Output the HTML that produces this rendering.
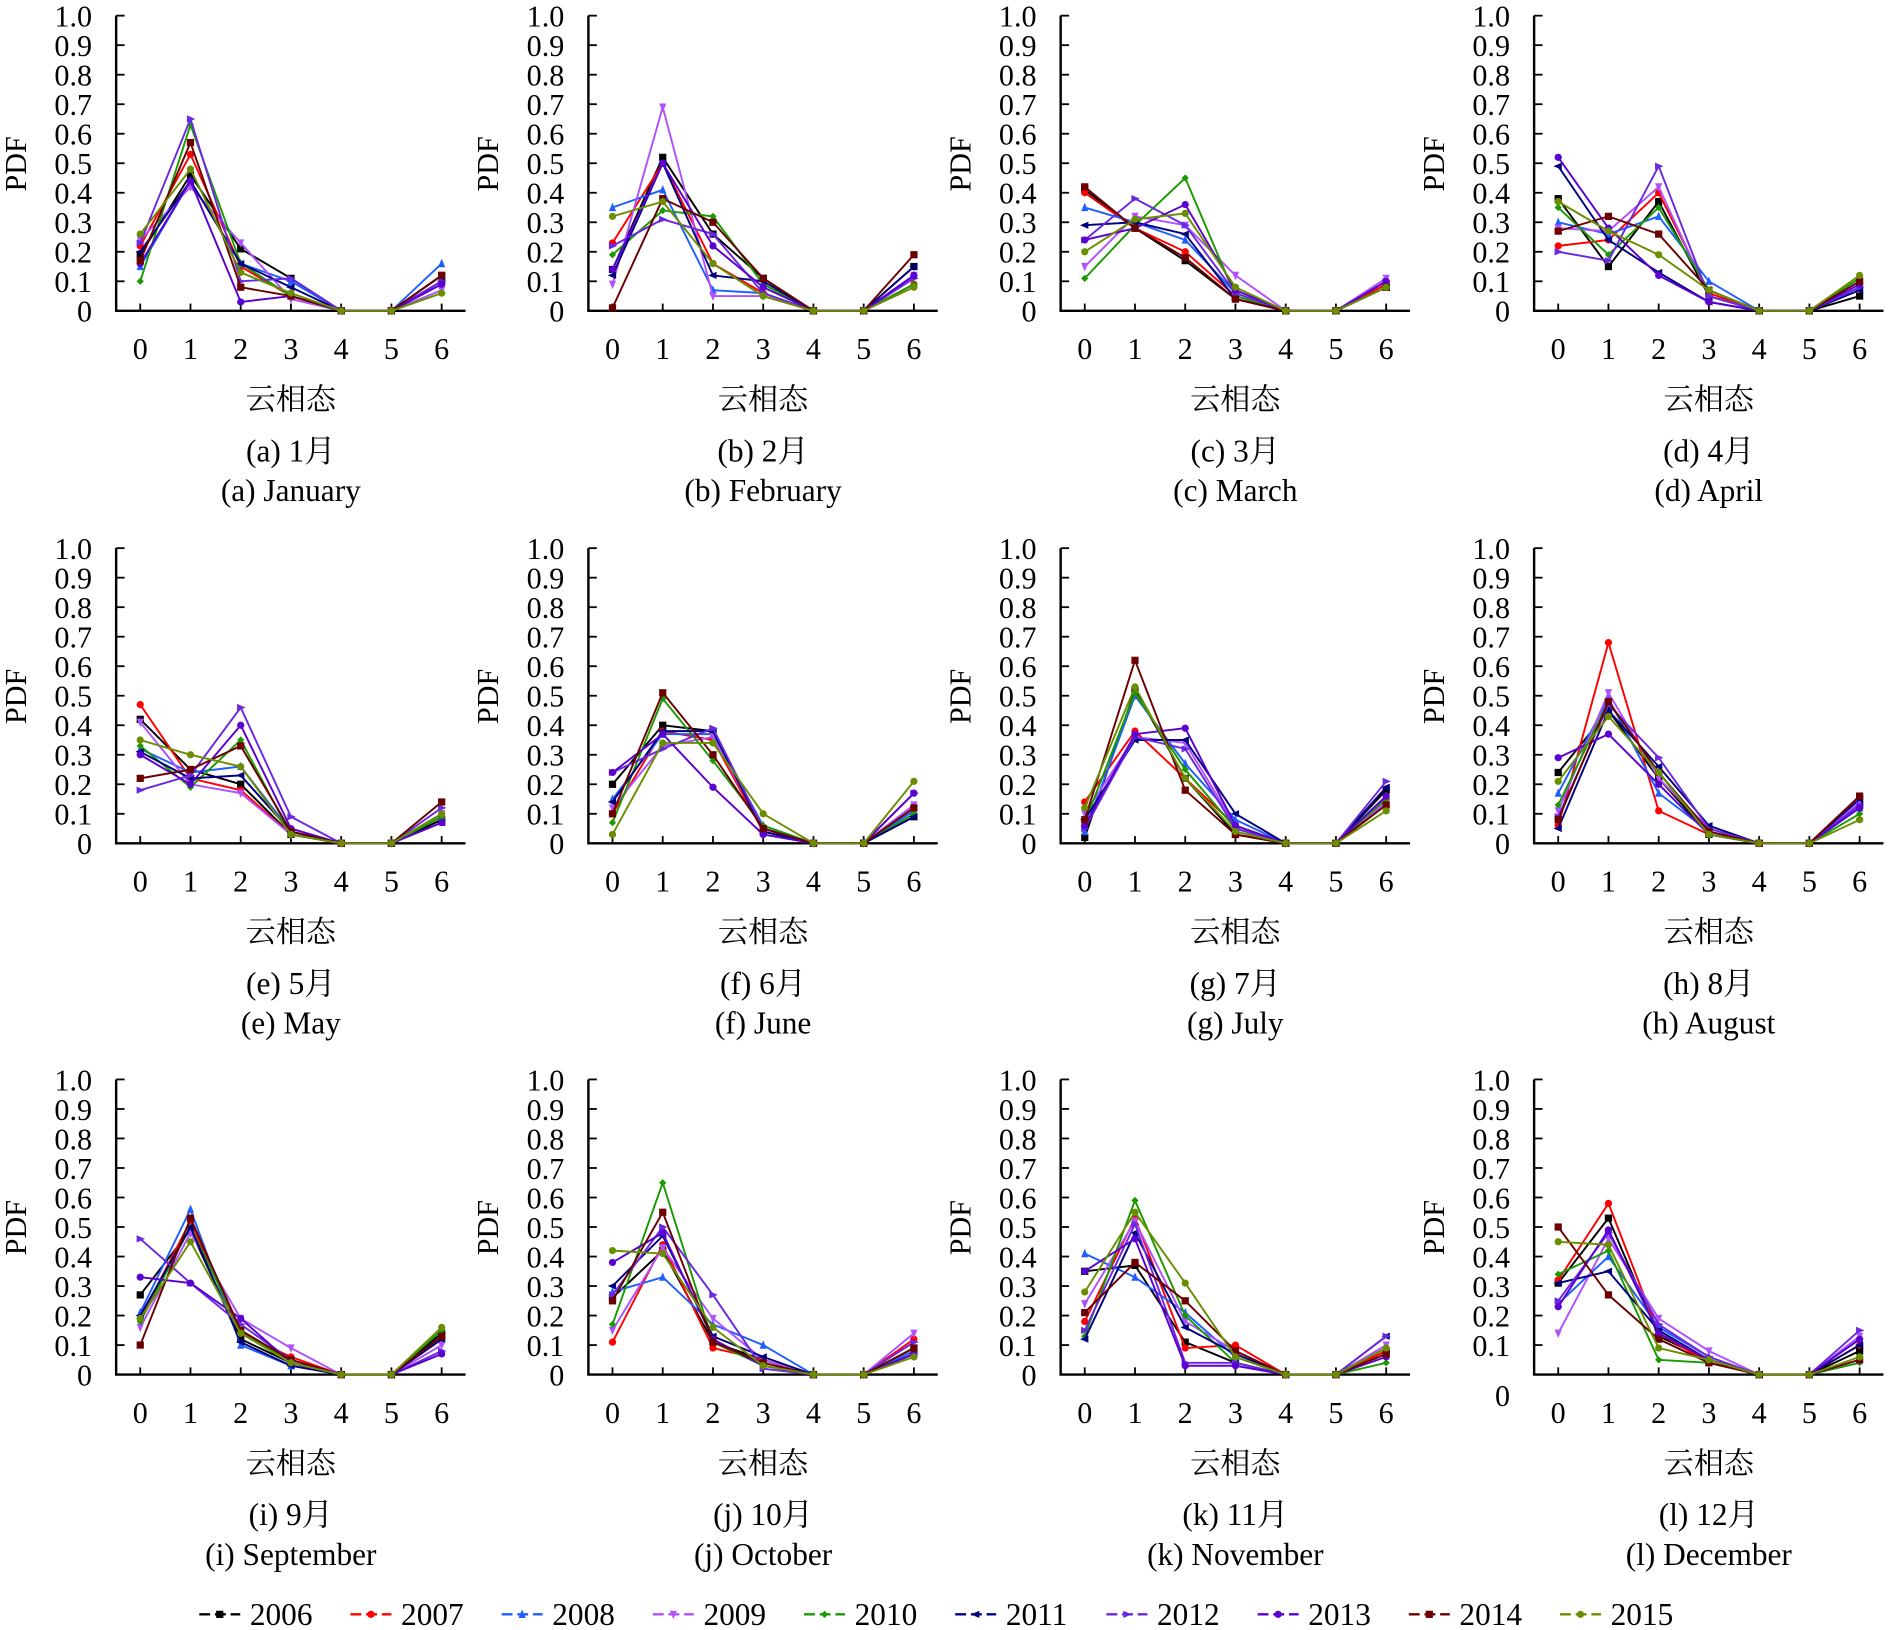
<!DOCTYPE html>
<html><head><meta charset="utf-8"><style>
html,body{margin:0;padding:0;background:#fff;}
svg{display:block;}
text{font-family:"Liberation Serif","Noto Serif CJK SC",serif;fill:#000;}
</style></head><body>
<svg id="chart" xmlns="http://www.w3.org/2000/svg" width="1890" height="1630" viewBox="0 0 1568 1353"></svg>
<script>
const categories=[0,1,2,3,4,5,6];
const years=["2006","2007","2008","2009","2010","2011","2012","2013","2014","2015"];
const yTicks=["0","0.1","0.2","0.3","0.4","0.5","0.6","0.7","0.8","0.9","1.0"];
const monthCn=["(a) 1月","(b) 2月","(c) 3月","(d) 4月","(e) 5月","(f) 6月","(g) 7月","(h) 8月","(i) 9月","(j) 10月","(k) 11月","(l) 12月"];
const monthEn=["(a) January","(b) February","(c) March","(d) April","(e) May","(f) June","(g) July","(h) August","(i) September","(j) October","(k) November","(l) December"];
// values per month: per year [c0,c1,c2,c3,c6] (c4,c5 are 0)
const janData=[[.19,.46,.21,.11,.12],[.22,.53,.15,.05,.10],[.15,.44,.16,.10,.16],[.24,.42,.23,.04,.07],[.10,.63,.16,.05,.06],[.20,.44,.16,.08,.10],[.23,.65,.10,.11,.10],[.16,.44,.03,.05,.09],[.17,.57,.08,.05,.12],[.26,.48,.13,.06,.06]];
const febData=[[.14,.52,.26,.11,.15],[.23,.50,.16,.06,.09],[.35,.41,.07,.06,.12],[.09,.69,.05,.05,.12],[.19,.34,.32,.09,.09],[.12,.50,.12,.10,.15],[.22,.31,.26,.06,.11],[.14,.50,.22,.08,.12],[.01,.38,.30,.11,.19],[.32,.37,.16,.05,.08]];
const marData=[[.41,.28,.17,.04,.08],[.40,.28,.20,.05,.09],[.35,.30,.24,.06,.10],[.15,.32,.29,.12,.11],[.11,.29,.45,.05,.08],[.29,.30,.26,.04,.08],[.24,.38,.29,.06,.10],[.24,.28,.36,.07,.10],[.42,.28,.18,.04,.08],[.20,.31,.33,.08,.08]];
const aprData=[[.38,.15,.37,.05,.05],[.22,.24,.40,.06,.08],[.30,.26,.32,.10,.08],[.28,.27,.42,.05,.08],[.35,.19,.35,.07,.11],[.49,.24,.13,.03,.07],[.20,.17,.49,.05,.08],[.52,.28,.12,.03,.09],[.27,.32,.26,.07,.10],[.37,.27,.19,.07,.12]];
const mayData=[[.42,.25,.20,.03,.08],[.47,.22,.18,.03,.09],[.32,.24,.26,.04,.09],[.41,.20,.17,.03,.10],[.33,.19,.35,.03,.09],[.31,.22,.23,.04,.07],[.18,.23,.46,.09,.12],[.30,.20,.40,.05,.07],[.22,.25,.33,.04,.14],[.35,.30,.26,.03,.10]];
const junData=[[.20,.40,.38,.04,.09],[.10,.38,.35,.04,.12],[.15,.37,.37,.06,.11],[.12,.33,.36,.05,.13],[.07,.49,.28,.06,.10],[.14,.38,.38,.04,.09],[.24,.32,.39,.05,.17],[.24,.37,.19,.03,.17],[.10,.51,.30,.05,.12],[.03,.34,.34,.10,.21]];
const julData=[[.02,.52,.22,.03,.18],[.14,.38,.22,.06,.15],[.04,.50,.27,.08,.16],[.10,.36,.34,.06,.14],[.07,.51,.25,.05,.15],[.08,.35,.35,.10,.19],[.05,.36,.32,.05,.21],[.06,.37,.39,.06,.16],[.08,.62,.18,.03,.13],[.12,.53,.22,.04,.11]];
const augData=[[.24,.45,.22,.03,.13],[.06,.68,.11,.03,.16],[.17,.49,.17,.04,.12],[.11,.51,.22,.05,.14],[.13,.48,.24,.03,.10],[.05,.45,.26,.06,.15],[.09,.47,.29,.05,.13],[.29,.37,.20,.03,.12],[.08,.48,.24,.04,.16],[.21,.43,.24,.03,.08]];
const sepData=[[.27,.49,.12,.04,.14],[.19,.52,.14,.06,.12],[.21,.56,.10,.03,.13],[.16,.48,.19,.09,.10],[.18,.50,.15,.04,.15],[.20,.50,.11,.03,.12],[.46,.31,.17,.05,.08],[.33,.31,.19,.04,.07],[.10,.53,.15,.05,.13],[.19,.45,.14,.04,.16]];
const octData=[[.26,.42,.11,.05,.09],[.11,.44,.09,.05,.12],[.28,.33,.17,.10,.08],[.15,.43,.19,.05,.14],[.17,.65,.11,.03,.09],[.30,.47,.13,.06,.07],[.27,.50,.27,.02,.11],[.38,.48,.12,.03,.07],[.25,.55,.11,.04,.09],[.42,.41,.16,.03,.06]];
const novData=[[.35,.37,.11,.04,.08],[.18,.53,.09,.10,.08],[.41,.33,.21,.06,.09],[.24,.52,.18,.08,.10],[.13,.59,.20,.04,.04],[.12,.48,.16,.07,.13],[.15,.51,.04,.04,.13],[.35,.46,.03,.03,.06],[.21,.38,.25,.08,.07],[.28,.55,.31,.06,.09]];
const decData=[[.31,.53,.13,.05,.08],[.32,.58,.14,.04,.10],[.24,.40,.16,.06,.12],[.14,.46,.19,.08,.13],[.34,.42,.05,.04,.04],[.31,.35,.15,.05,.10],[.25,.48,.17,.06,.15],[.23,.49,.14,.05,.12],[.50,.27,.12,.04,.05],[.45,.44,.09,.05,.06]];
const allMonths=[janData,febData,marData,aprData,mayData,junData,julData,augData,sepData,octData,novData,decData];

const colors=["#000000","#ff0000","#1f5fff","#b050ff","#1a9a00","#000080","#6a28e0","#5a00d0","#6b0000","#6b8e00"];
const NS="http://www.w3.org/2000/svg";
const svg=document.getElementById('chart');
function mk(tag,attrs,parent){const e=document.createElementNS(NS,tag);for(const k in attrs)e.setAttribute(k,attrs[k]);(parent||svg).appendChild(e);return e;}
function txt(s,attrs,parent){const e=mk('text',attrs,parent);e.textContent=s;return e;}
function marker(g,i,x,y,c){
  const s=3;
  if(i==0||i==8){return mk('rect',{x:x-s,y:y-s,width:2*s,height:2*s,fill:c},g);}
  if(i==2){return mk('polygon',{points:`${x},${y-s-1} ${x-s},${y+s} ${x+s},${y+s}`,fill:c},g);}
  if(i==3){return mk('polygon',{points:`${x},${y+s+1} ${x-s},${y-s} ${x+s},${y-s}`,fill:c},g);}
  if(i==4){return mk('polygon',{points:`${x},${y-s} ${x+s},${y} ${x},${y+s} ${x-s},${y}`,fill:c},g);}
  if(i==5){return mk('polygon',{points:`${x-s-1},${y} ${x+s},${y-s} ${x+s},${y+s}`,fill:c},g);}
  if(i==6){return mk('polygon',{points:`${x+s+1},${y} ${x-s},${y-s} ${x-s},${y+s}`,fill:c},g);}
  return mk('circle',{cx:x,cy:y,r:s,fill:c},g);
}
const colX=[96,488,880,1273], rowY=[258,700,1141];
const H=245, step=41.7, x0off=20;
allMonths.forEach((md,m)=>{
  const ox=colX[m%4], oy=rowY[Math.floor(m/4)];
  const g=mk('g',{});
  
  
  const xs=c=>ox+x0off+c*step;
  const ys=v=>oy-v*H;
  const ax=mk('path',{d:`M${ox},${oy-H} V${oy} H${ox+290}`,stroke:'#000','stroke-width':2,fill:'none'},g);
  
  
  yTicks.forEach((t,i)=>{
    const v=i/10;
    mk('line',{x1:ox,x2:ox+7,y1:ys(v),y2:ys(v),stroke:'#000','stroke-width':1.5},g);
    const ty=(m==11&&i==0)?ys(v)+26:ys(v)+9;
    const e=txt(t,{x:ox-20,y:ty,'text-anchor':'end','font-size':25},g);
    
    
  });
  categories.forEach(c=>{
    mk('line',{x1:xs(c),x2:xs(c),y1:oy,y2:oy-6,stroke:'#000','stroke-width':1.5},g);
    const e=txt(String(c),{x:xs(c),y:oy+40,'text-anchor':'middle','font-size':25},g);
    
    
  });
  const yl=txt('PDF',{x:0,y:0,'text-anchor':'middle','font-size':25,transform:`translate(${ox-75},${oy-122}) rotate(-90)`},g);
  
  
  const xl=txt('云相态',{x:ox+145,y:oy+82,'text-anchor':'middle','font-size':25},g);
  
  
  const c1=txt(monthCn[m],{x:ox+145,y:oy+125,'text-anchor':'middle','font-size':26},g);
  
  
  const c2=txt(monthEn[m],{x:ox+145,y:oy+158,'text-anchor':'middle','font-size':26},g);
  
  
  md.forEach((r,i)=>{
    const vals=[r[0],r[1],r[2],r[3],0,0,r[4]];
    const pts=vals.map((v,c)=>[xs(c),ys(v)]);
    const sg=mk('g',{},g);
    
    
    const l=mk('polyline',{points:pts.map(p=>p.join(',')).join(' '),fill:'none',stroke:colors[i],'stroke-width':1.6},sg);
    
    
    pts.forEach(p=>{
      const mm=marker(sg,i,p[0],p[1],colors[i]);
      
      
    });
  });
});
const lg=mk('g',{});


years.forEach((y,i)=>{
  const x=165+i*125.5, yy=1340;
  const eg=mk('g',{},lg);
  
  
  mk('line',{x1:x,x2:x+34,y1:yy,y2:yy,stroke:colors[i],'stroke-width':2,'stroke-dasharray':'9,4'},eg);
  marker(eg,i,x+17,yy,colors[i]);
  txt(y,{x:x+42,y:yy+9,'font-size':26},eg);
});
</script>
</body></html>
